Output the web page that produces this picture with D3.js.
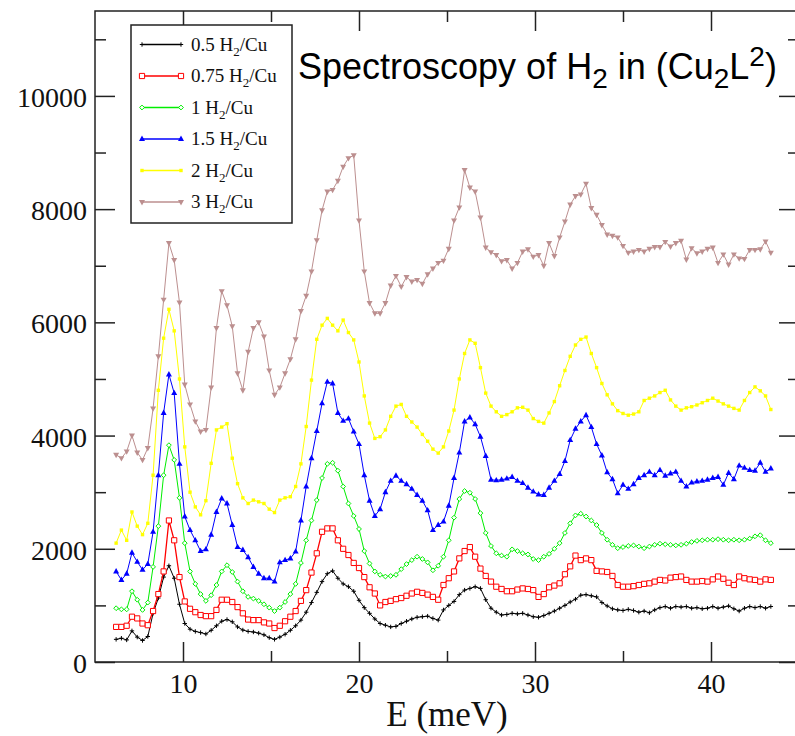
<!DOCTYPE html>
<html>
<head>
<meta charset="utf-8">
<script src="https://cdn.jsdelivr.net/npm/d3@7/dist/d3.min.js"></script>
<style>
  body { margin: 0; background: #fff; }
  svg { display: block; }
</style>
</head>
<body>
<svg id="chart" width="795" height="736"></svg>
<script>
// Energy transfer grid (meV)
const energy = [
  6.2, 6.5, 6.8, 7.1, 7.4, 7.7, 8.0, 8.3, 8.6, 8.9,
  9.2, 9.5, 9.8, 10.1, 10.4, 10.7, 11.0, 11.3, 11.6, 11.9,
  12.2, 12.5, 12.8, 13.1, 13.4, 13.7, 14.0, 14.3, 14.6, 14.9,
  15.2, 15.5, 15.8, 16.1, 16.4, 16.7, 17.0, 17.3, 17.6, 17.9,
  18.2, 18.5, 18.8, 19.1, 19.4, 19.7, 20.0, 20.3, 20.6, 20.9,
  21.2, 21.5, 21.8, 22.1, 22.4, 22.7, 23.0, 23.3, 23.6, 23.9,
  24.2, 24.5, 24.8, 25.1, 25.4, 25.7, 26.0, 26.3, 26.6, 26.9,
  27.2, 27.5, 27.8, 28.1, 28.4, 28.7, 29.0, 29.3, 29.6, 29.9,
  30.2, 30.5, 30.8, 31.1, 31.4, 31.7, 32.0, 32.3, 32.6, 32.9,
  33.2, 33.5, 33.8, 34.1, 34.4, 34.7, 35.0, 35.3, 35.6, 35.9,
  36.2, 36.5, 36.8, 37.1, 37.4, 37.7, 38.0, 38.3, 38.6, 38.9,
  39.2, 39.5, 39.8, 40.1, 40.4, 40.7, 41.0, 41.3, 41.6, 41.9,
  42.2, 42.5, 42.8, 43.1, 43.4
];

// Scattered intensity for each H2 loading
const load05 = [
  400, 420, 390, 550, 440, 380, 450, 860, 1130, 1500,
  1700, 1480, 1020, 680, 580, 540, 520, 495, 560, 640,
  720, 750, 710, 620, 565, 540, 530, 510, 480, 430,
  400, 440, 490, 560, 640, 740, 880, 1050, 1230, 1420,
  1560, 1610, 1480, 1380, 1330, 1250, 1090, 960, 860, 760,
  680, 650, 620, 630, 680, 720, 760, 790, 800, 810,
  770, 740, 920, 1000, 1070, 1190, 1270, 1300, 1330, 1300,
  1100, 950, 880, 830, 840, 860, 850, 860, 830, 800,
  790, 820, 860, 900, 950, 1000, 1060, 1110, 1180, 1190,
  1170, 1150, 1050, 990, 940, 920, 910, 930, 910, 880,
  900, 870, 920, 960, 980, 950, 980, 970, 980, 950,
  960, 940, 950, 980, 950, 970, 990, 940, 900, 950,
  980, 960, 980, 950, 980
];
const load075 = [
  620, 620, 640, 800, 770, 680, 650, 900, 1200, 1600,
  2500, 2150, 1500, 1070, 940, 880, 830, 810, 810, 920,
  1100, 1100, 1060, 970, 860, 750, 740, 740, 700, 680,
  600, 640, 720, 800, 900, 1080, 1270, 1580, 1920, 2300,
  2360, 2360, 2150, 2000, 1890, 1750, 1660, 1500, 1320, 1210,
  1000, 1060, 1080, 1110, 1130, 1170, 1210, 1240, 1220, 1190,
  1150, 1100, 1360, 1480, 1600, 1830, 1960, 2030, 1860, 1650,
  1520, 1420, 1330, 1290, 1250, 1250, 1280, 1300, 1290, 1270,
  1150, 1200, 1320, 1350, 1390, 1550, 1690, 1880, 1800, 1830,
  1800, 1610, 1600, 1590, 1520, 1360, 1330, 1330, 1340, 1360,
  1380, 1390, 1420, 1450, 1440, 1490, 1500, 1510, 1450, 1420,
  1420, 1430, 1420, 1460, 1510, 1470, 1400, 1360, 1510, 1480,
  1460, 1450, 1420, 1460, 1450
];
const load1 = [
  950, 930, 930, 1250, 1100, 920, 1050, 1680, 2400, 3300,
  3830, 3570, 2900, 2100, 1600, 1380, 1200, 1080, 1180, 1360,
  1600, 1710, 1590, 1420, 1250, 1150, 1120, 1080, 1020, 960,
  900, 960, 1060, 1200, 1380, 1750, 2150, 2500, 2860, 3250,
  3500, 3520, 3380, 3100, 2800, 2580, 2350, 1960, 1740, 1600,
  1540, 1510, 1520, 1540, 1640, 1730, 1800, 1860, 1820, 1760,
  1620, 1700, 1860, 2150, 2550, 2880, 3020, 2990, 2880, 2630,
  2280, 2050, 1920, 1880, 1860, 1990, 1960, 1920, 1900, 1820,
  1800, 1860, 1910, 2000, 2100, 2280, 2450, 2590, 2620, 2570,
  2500, 2420, 2280, 2160, 2070, 2010, 2030, 2050, 2060, 2040,
  2010, 2040, 2070, 2090, 2080, 2070, 2060, 2070, 2090, 2120,
  2140, 2150, 2160, 2160, 2170, 2160, 2150, 2160, 2150, 2160,
  2180, 2220, 2240, 2150, 2100
];
const load15 = [
  1600, 1450, 1560, 1930, 1770, 1630, 1730, 2300, 3300, 4400,
  5080, 4750, 3500, 2570, 2330, 2150, 1960, 1990, 2250, 2650,
  2890, 2800, 2420, 2030, 1980, 1850, 1680, 1560, 1480, 1480,
  1420, 1760, 1800, 1830, 1950, 2500, 3100, 3600, 4080, 4570,
  4950, 4920, 4400, 4260, 4300, 4070, 3850, 3300, 2850, 2580,
  2700, 3000, 3200, 3290, 3200, 3140, 3060, 2950, 2850, 2680,
  2330, 2420, 2480, 2760, 3250, 3700, 4250, 4320, 4200, 3980,
  3640, 3220, 3210, 3220, 3240, 3270, 3200, 3160, 3080, 3010,
  2960, 2950, 3080, 3200, 3320, 3550, 3920, 4120, 4250, 4360,
  4150, 3850, 3650, 3350, 3230, 2980, 3130, 3060, 3140, 3250,
  3300, 3360, 3300, 3390, 3290, 3330, 3360, 3200, 3100, 3170,
  3190, 3200, 3220, 3250, 3270, 3130, 3340, 3230, 3470, 3430,
  3390, 3380, 3520, 3360, 3420
];
const load2 = [
  2100, 2330, 2150, 2650, 2400, 2250, 2450, 3300, 4800, 5720,
  6230, 5850, 5000, 3800, 3000, 2740, 2600, 2850, 3510, 4100,
  4150, 4210, 3600, 3150, 2900, 2800, 2860, 2830, 2800, 2700,
  2640, 2860, 2900, 2920, 3100, 3500, 4160, 4980, 5700, 5950,
  6070, 5950, 5850, 6040, 5820, 5690, 5300, 4700, 4220, 3950,
  3980, 4100, 4340, 4520, 4550, 4340, 4240, 4150, 4020, 3900,
  3760, 3690, 3800, 4080, 4450, 5000, 5450, 5690, 5630, 5200,
  4750, 4520, 4420, 4340, 4370, 4420, 4490, 4500, 4450, 4300,
  4250, 4220, 4400, 4600, 4880, 5150, 5400, 5600, 5700, 5740,
  5450, 5200, 4920, 4720, 4560, 4440, 4390, 4360, 4380, 4420,
  4620, 4660, 4700, 4760, 4800, 4630, 4520, 4450, 4490, 4510,
  4540, 4580, 4620, 4660, 4610, 4560, 4520, 4480, 4450, 4620,
  4760, 4860, 4790, 4700, 4460
];
const load3 = [
  3660, 3600, 3720, 4000, 3700, 3570, 3780, 4480, 5400, 6400,
  7400, 7100, 6350, 4900, 4550, 4250, 4070, 4100, 4850, 5900,
  6550, 6300, 5930, 5100, 4800, 5480, 5900, 6000, 5750, 5150,
  4720, 4850, 5100, 5350, 5700, 6200, 6470, 6900, 7450, 7980,
  8310, 8340, 8500, 8750, 8900, 8950, 7800, 6900, 6340, 6160,
  6160, 6340, 6650, 6820, 6630, 6800, 6720, 6750, 6680, 6850,
  6950, 7050, 7090, 7300, 7800, 8030, 8690, 8380, 8310, 7850,
  7320, 7240, 7190, 7080, 7100, 6950, 7050, 7250, 7290, 7160,
  7190, 7000, 7400, 7170, 7500, 7780, 8080, 8230, 8260, 8450,
  8020, 7900, 7720, 7550, 7530, 7500, 7350, 7230, 7250, 7280,
  7250, 7300, 7330, 7330, 7420, 7340, 7400, 7440, 7110, 7310,
  7220, 7250, 7300, 7320, 7050, 7200, 7020, 7200, 7130, 7120,
  7280, 7280, 7290, 7430, 7230
];

const loadings = ["0.5", "0.75", "1", "1.5", "2", "3"];
const xMajorTicks = [10, 20, 30, 40];
const xMinorTicks = [15, 25, 35];
const yMajorTicks = [0, 2000, 4000, 6000, 8000, 10000];
const yMinorTicks = [1000, 3000, 5000, 7000, 9000, 11000];

const seriesValues = [load05, load075, load1, load15, load2, load3];
const seriesStyle = [
  { color: "#000000", marker: "plus" },
  { color: "#ff0000", marker: "square" },
  { color: "#00ee00", marker: "diamond" },
  { color: "#0000ff", marker: "triUp" },
  { color: "#ffff00", marker: "dot" },
  { color: "#bc8f8f", marker: "triDown" }
];

const markerPath = {
  plus:    "M-2.2,0H2.2M0,-2.2V2.2",
  square:  "M-2.6,-2.6H2.6V2.6H-2.6Z",
  diamond: "M0,-2.4L2.4,0L0,2.4L-2.4,0Z",
  triUp:   "M0,-3.4L3,2L-3,2Z",
  triDown: "M0,3.4L3,-2L-3,-2Z",
  dot:     "M-1.7,-1.7H1.7V1.7H-1.7Z"
};
function drawMarker(sel, style) {
  const p = sel.append("path").attr("d", markerPath[style.marker]);
  if (style.marker === "plus") {
    p.attr("fill", "none").attr("stroke", style.color).attr("stroke-width", 1);
  } else if (style.marker === "square" || style.marker === "diamond") {
    p.attr("fill", "#fff").attr("stroke", style.color).attr("stroke-width", 1);
  } else {
    p.attr("fill", style.color).attr("stroke", "none");
  }
}

const svg = d3.select("#chart");
const plotLeft = 95, plotRight = 799, plotTop = 11, plotBottom = 662;

const x = d3.scaleLinear().domain([5, 45]).range([plotLeft, plotRight]);
const y = d3.scaleLinear().domain([0, 11500]).range([plotBottom, plotTop]);

const serif = "'Liberation Serif', 'Times New Roman', serif";
const sans = "'Liberation Sans', Arial, sans-serif";

// Curves with their markers
const line = d3.line().x((d, i) => x(energy[i])).y(d => y(d));
seriesValues.forEach((vals, k) => {
  const st = seriesStyle[k];
  const g = svg.append("g");
  g.append("path")
    .datum(vals)
    .attr("d", line)
    .attr("fill", "none")
    .attr("stroke", st.color)
    .attr("stroke-width", k === 1 ? 1.3 : 1);
  g.selectAll("g.pt")
    .data(vals)
    .join("g")
    .attr("class", "pt")
    .attr("transform", (d, i) => `translate(${x(energy[i])},${y(d)})`)
    .each(function () { drawMarker(d3.select(this), st); });
});

// Frame and ticks
function styleAxis(g, withLabels) {
  g.select(".domain").remove();
  g.selectAll(".tick line").attr("stroke", "#222").attr("stroke-width", 1.5);
  if (withLabels) {
    g.selectAll(".tick text")
      .attr("fill", "#111")
      .style("font-family", serif)
      .style("font-size", "28px");
  } else {
    g.selectAll(".tick text").remove();
  }
}

svg.append("g").attr("transform", `translate(0,${plotBottom})`)
  .call(d3.axisBottom(x).tickValues(xMajorTicks).tickSize(-20).tickPadding(11).tickFormat(d3.format("d")))
  .call(g => styleAxis(g, true));
svg.append("g").attr("transform", `translate(0,${plotBottom})`)
  .call(d3.axisBottom(x).tickValues(xMinorTicks).tickSize(-11))
  .call(g => styleAxis(g, false));
svg.append("g").attr("transform", `translate(0,${plotTop})`)
  .call(d3.axisTop(x).tickValues(xMajorTicks).tickSize(-20))
  .call(g => styleAxis(g, false));
svg.append("g").attr("transform", `translate(0,${plotTop})`)
  .call(d3.axisTop(x).tickValues(xMinorTicks).tickSize(-11))
  .call(g => styleAxis(g, false));

svg.append("g").attr("transform", `translate(${plotLeft},0)`)
  .call(d3.axisLeft(y).tickValues(yMajorTicks).tickSize(-20).tickPadding(8).tickFormat(d3.format("d")))
  .call(g => styleAxis(g, true))
  .call(g => g.selectAll(".tick text").attr("dy", "0.38em"));
svg.append("g").attr("transform", `translate(${plotLeft},0)`)
  .call(d3.axisLeft(y).tickValues(yMinorTicks).tickSize(-11))
  .call(g => styleAxis(g, false));
svg.append("g").attr("transform", `translate(${plotRight},0)`)
  .call(d3.axisRight(y).tickValues(yMajorTicks).tickSize(-20))
  .call(g => styleAxis(g, false));
svg.append("g").attr("transform", `translate(${plotRight},0)`)
  .call(d3.axisRight(y).tickValues(yMinorTicks).tickSize(-11))
  .call(g => styleAxis(g, false));

svg.append("rect")
  .attr("x", plotLeft).attr("y", plotTop)
  .attr("width", plotRight - plotLeft).attr("height", plotBottom - plotTop)
  .attr("fill", "none").attr("stroke", "#222").attr("stroke-width", 1.5);

// Axis title
svg.append("text")
  .attr("x", (plotLeft + plotRight) / 2).attr("y", 726)
  .attr("text-anchor", "middle")
  .style("font-family", serif).style("font-size", "35px").attr("fill", "#111")
  .text("E (meV)");

// Legend
const legend = svg.append("g");
legend.append("rect")
  .attr("x", 131).attr("y", 25).attr("width", 161).attr("height", 198)
  .attr("fill", "#fff").attr("stroke", "#222").attr("stroke-width", 1.5);
loadings.forEach((name, k) => {
  const st = seriesStyle[k];
  const ry = 44.5 + 31.5 * k;
  legend.append("line")
    .attr("x1", 142).attr("x2", 181).attr("y1", ry).attr("y2", ry)
    .attr("stroke", st.color).attr("stroke-width", 1.3);
  [142, 181].forEach(px => {
    drawMarker(legend.append("g").attr("transform", `translate(${px},${ry})`), st);
  });
  const t = legend.append("text")
    .attr("x", 191).attr("y", ry + 6)
    .style("font-family", serif).style("font-size", "19px").attr("fill", "#111");
  t.append("tspan").text(name + " H");
  t.append("tspan").attr("dy", 5).style("font-size", "13px").text("2");
  t.append("tspan").attr("dy", -5).text("/Cu");
});

// Title
const title = svg.append("text")
  .attr("x", 298).attr("y", 79)
  .style("font-family", sans).style("font-size", "36px").attr("fill", "#000");
title.append("tspan").text("Spectroscopy of H");
title.append("tspan").attr("dy", 9).style("font-size", "28px").text("2");
title.append("tspan").attr("dy", -9).text(" in (Cu");
title.append("tspan").attr("dy", 9).style("font-size", "28px").text("2");
title.append("tspan").attr("dy", -9).text("L");
title.append("tspan").attr("dy", -13).style("font-size", "28px").text("2");
title.append("tspan").attr("dy", 13).text(")");
</script>
</body>
</html>
